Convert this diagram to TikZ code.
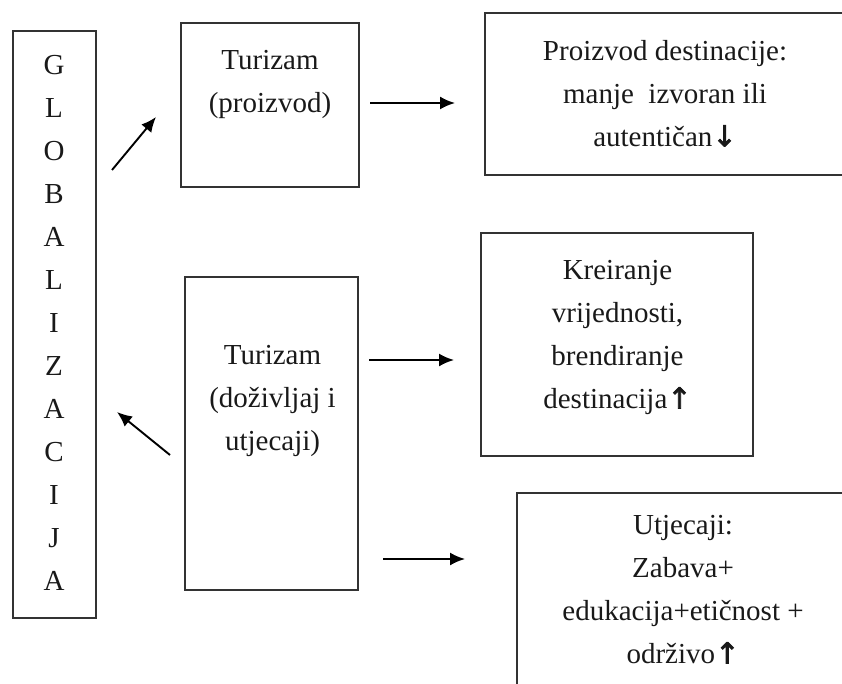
\documentclass[tikz,border=0pt]{standalone}
\usepackage{fontspec}
\setmainfont{Liberation Serif}
\newfontfamily\arrowfont[FakeBold=2.5]{DejaVu Sans}
\usetikzlibrary{arrows.meta}

\newcommand{\up}{{\arrowfont ↑}}
\newcommand{\down}{{\arrowfont ↓}}

\begin{document}
\begin{tikzpicture}[x=1pt,y=-1pt,
		box/.style={rectangle,draw=black!80,line width=1.5pt,inner sep=0pt},
		txt/.style={align=center,inner sep=0pt,anchor=north,text=black!90,font=\fontsize{29}{43}\selectfont},
		arr/.style={->,line width=1.9pt},
		>={Latex[length=15pt,width=13pt]}]
	\useasboundingbox (0,0) rectangle (842,684);
	\clip (0,0) rectangle (842,684);
	%% define boxes
	\node (glob) at (54.5,324.5) [box,minimum width=83pt,minimum height=587pt] {};
	\node (tprod) at (270,105) [box,minimum width=178pt,minimum height=164pt] {};
	\node (pdest) at (677.5,94) [box,minimum width=385pt,minimum height=162pt] {};
	\node (kre) at (617,344.5) [box,minimum width=272pt,minimum height=223pt] {};
	\node (tdoz) at (271.5,433.5) [box,minimum width=173pt,minimum height=313pt] {};
	\node (utj) at (697,610) [box,minimum width=360pt,minimum height=234pt] {};
	%% define texts
	\node (globt) at (54,55) [txt] {G\\L\\O\\B\\A\\L\\I\\Z\\A\\C\\I\\J\\A};
	\node (tprodt) at (270,50) [txt] {Turizam\\(proizvod)};
	\node (pdestt) at (665,40) [txt] {Proizvod destinacije:\\manje\ \ izvoran ili\\autentičan\down};
	\node (kret) at (617.5,260) [txt] {Kreiranje\\vrijednosti,\\brendiranje\\destinacija\up};
	\node (tdozt) at (272.5,345) [txt] {Turizam\\(doživljaj i\\utjecaji)};
	\node (utjt) at (683,515) [txt] {Utjecaji:\\Zabava+\\edukacija+etičnost +\\održivo\up};
	%% define arrow ends
	\coordinate (g2p) at (112,170);
	\coordinate (g2px) at (156,117);
	\coordinate (p2d) at (370,103);
	\coordinate (p2dx) at (455,103);
	\coordinate (d2g) at (170,455);
	\coordinate (d2gx) at (117,412);
	\coordinate (d2k) at (369,360);
	\coordinate (d2kx) at (454,360);
	\coordinate (d2u) at (383,559);
	\coordinate (d2ux) at (465,559);
	%% define arrows
	\draw[arr] (g2p) -- (g2px);
	\draw[arr] (p2d) -- (p2dx);
	\draw[arr] (d2g) -- (d2gx);
	\draw[arr] (d2k) -- (d2kx);
	\draw[arr] (d2u) -- (d2ux);
\end{tikzpicture}
\end{document}
